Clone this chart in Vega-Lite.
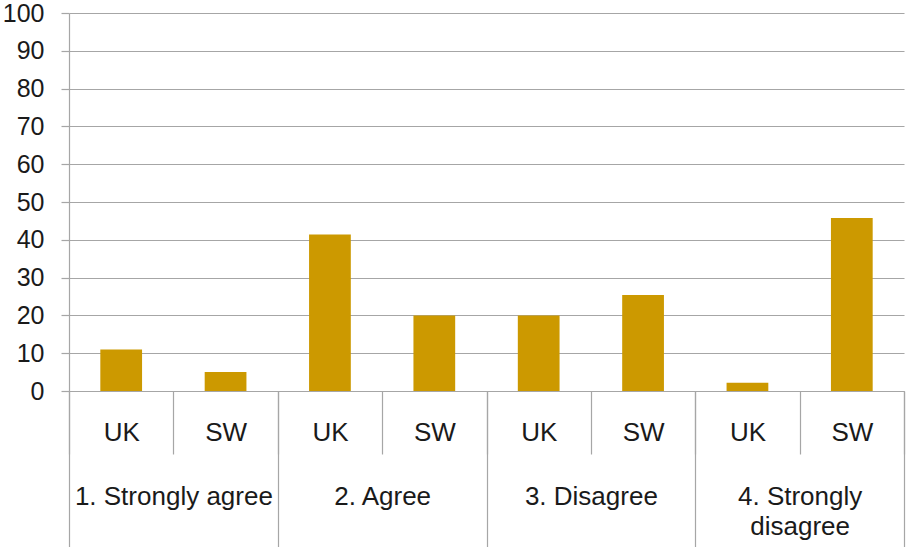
{
  "$schema": "https://vega.github.io/schema/vega-lite/v6.json",
  "width": 835,
  "height": 378,
  "autosize": {"type": "none"},
  "padding": {"left": 69, "top": 13, "right": 2, "bottom": 156},
  "background": "white",
  "config": {
    "view": {"stroke": null},
    "font": "Liberation Sans",
    "axis": {"labelFont": "Liberation Sans", "labelColor": "#1a1a1a", "labelFontSize": 26}
  },
  "data": {
    "values": [
      {"group": "1. Strongly agree", "country": "UK", "key": "1. Strongly agree|UK", "value": 11.0},
      {"group": "1. Strongly agree", "country": "SW", "key": "1. Strongly agree|SW", "value": 5.0},
      {"group": "2. Agree", "country": "UK", "key": "2. Agree|UK", "value": 41.4},
      {"group": "2. Agree", "country": "SW", "key": "2. Agree|SW", "value": 20.0},
      {"group": "3. Disagree", "country": "UK", "key": "3. Disagree|UK", "value": 20.0},
      {"group": "3. Disagree", "country": "SW", "key": "3. Disagree|SW", "value": 25.4},
      {"group": "4. Strongly disagree", "country": "UK", "key": "4. Strongly disagree|UK", "value": 2.2},
      {"group": "4. Strongly disagree", "country": "SW", "key": "4. Strongly disagree|SW", "value": 45.8}
    ]
  },
  "encoding": {
    "y": {
      "field": "value",
      "type": "quantitative",
      "scale": {"domain": [0, 100], "nice": false},
      "axis": {
        "title": null,
        "values": [0, 10, 20, 30, 40, 50, 60, 70, 80, 90, 100],
        "grid": true,
        "gridColor": "#a6a6a6",
        "gridWidth": 1.2,
        "domainColor": "#a6a6a6",
        "domainWidth": 1.2,
        "tickColor": "#a6a6a6",
        "tickWidth": 1.2,
        "tickSize": 8,
        "labelFontSize": 25,
        "labelPadding": 17
      }
    }
  },
  "layer": [
    {
      "mark": {"type": "bar", "color": "#CC9900", "width": {"band": 0.4}},
      "encoding": {
        "x": {
          "field": "key",
          "type": "nominal",
          "sort": null,
          "scale": {"paddingInner": 0, "paddingOuter": 0},
          "axis": {
            "orient": "bottom",
            "title": null,
            "labelAngle": 0,
            "labelExpr": "split(datum.value, '|')[1]",
            "tickBand": "extent",
            "tickSize": 63,
            "tickColor": "#a6a6a6",
            "tickWidth": 1.2,
            "domainColor": "#a6a6a6",
            "domainWidth": 1.2,
            "labelBaseline": "top",
            "labelPadding": -35
          }
        }
      }
    },
    {
      "mark": {"type": "bar", "opacity": 0},
      "encoding": {
        "x": {
          "field": "group",
          "type": "nominal",
          "sort": null,
          "scale": {"paddingInner": 0, "paddingOuter": 0},
          "axis": {
            "orient": "bottom",
            "title": null,
            "labelAngle": 0,
            "domain": false,
            "labelLimit": 0,
            "labelExpr": "datum.value == '4. Strongly disagree' ? ['4. Strongly', 'disagree'] : datum.value",
            "labelLineHeight": 30,
            "tickBand": "extent",
            "tickSize": 156,
            "tickColor": "#a6a6a6",
            "tickWidth": 1.2,
            "labelBaseline": "top",
            "labelPadding": -64
          }
        }
      }
    }
  ],
  "resolve": {"scale": {"x": "independent"}, "axis": {"x": "independent"}}
}
